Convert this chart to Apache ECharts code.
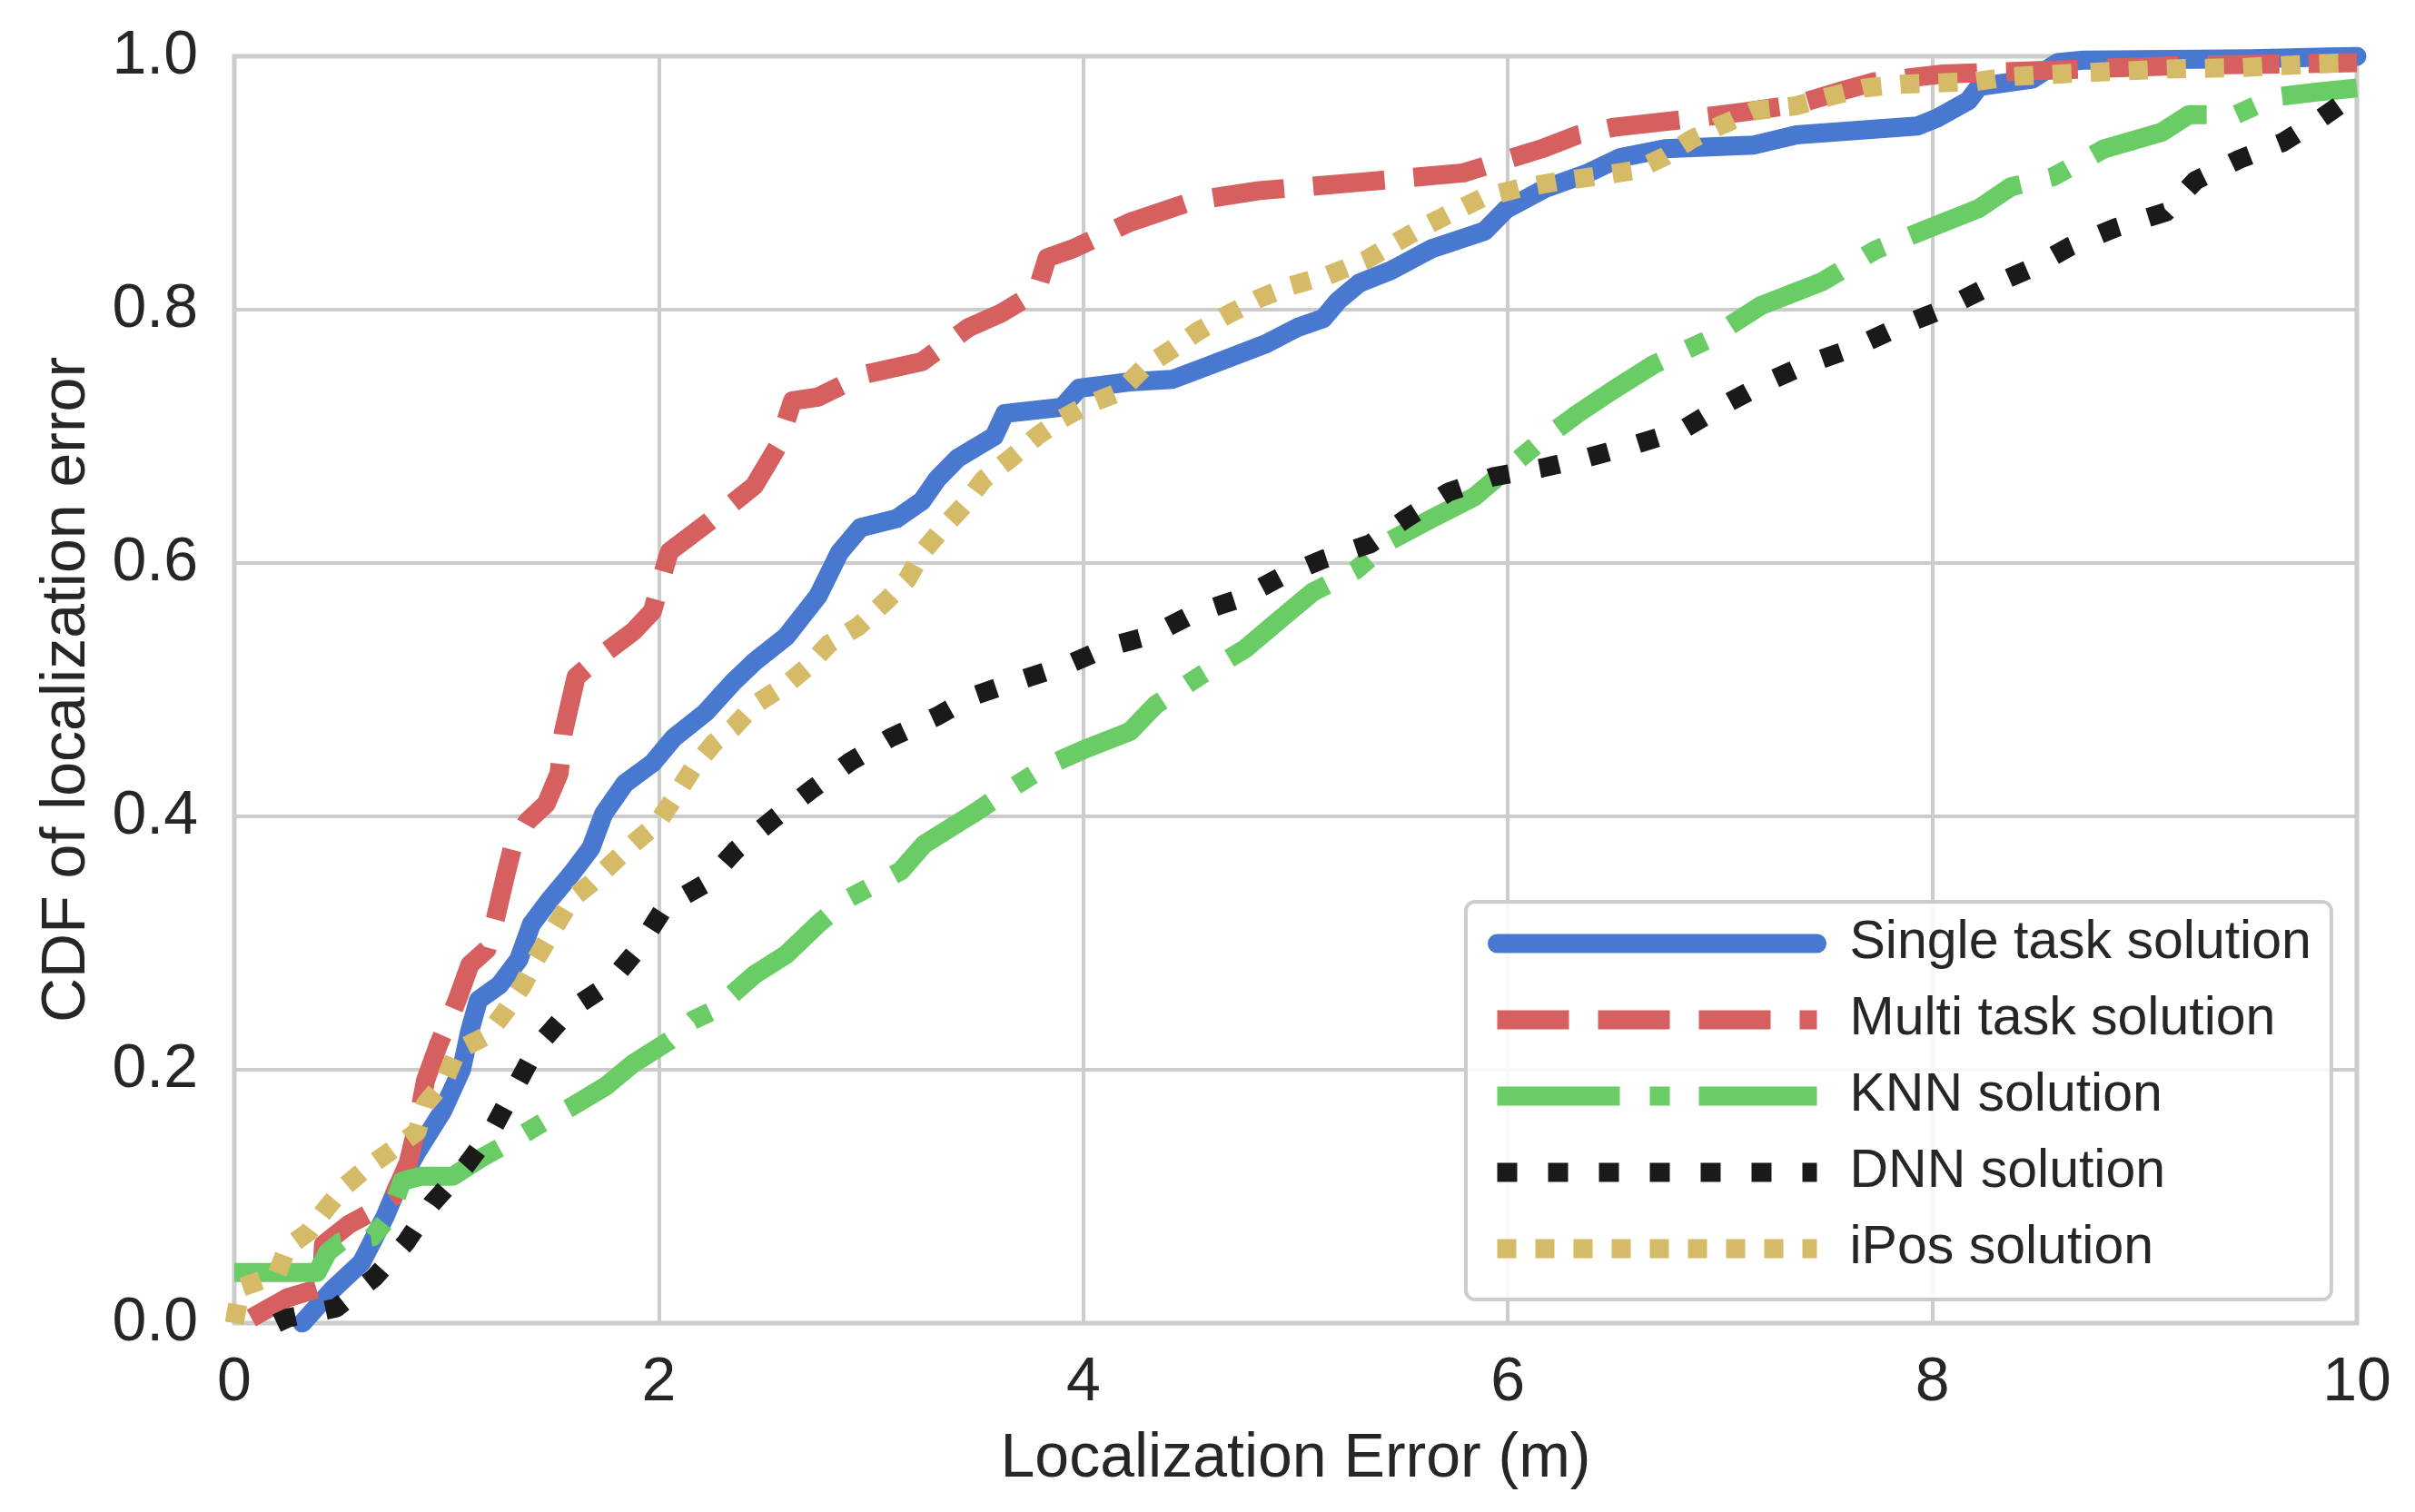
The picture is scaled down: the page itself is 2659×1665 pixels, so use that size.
<!DOCTYPE html>
<html>
<head>
<meta charset="utf-8">
<title>CDF of localization error</title>
<script src="https://cdn.jsdelivr.net/npm/echarts@6/dist/echarts.min.js"></script>
<style>
    html, body { margin: 0; padding: 0; background: #ffffff; }
    #chart { width: 2659px; height: 1665px; }
</style>
</head>
<body>
<div id="chart"></div>
<script>
// values: [error (m), CDF]
var singleTask = [
    [0.32, 0], [0.46, 0.026], [0.6, 0.048], [0.71, 0.084], [0.77, 0.108], [0.86, 0.135],
    [0.98, 0.167], [1.07, 0.2], [1.11, 0.231], [1.15, 0.255], [1.25, 0.267], [1.34, 0.287],
    [1.4, 0.315], [1.49, 0.335], [1.59, 0.355], [1.68, 0.375], [1.74, 0.402], [1.84, 0.426],
    [1.97, 0.442], [2.07, 0.462], [2.22, 0.482], [2.35, 0.506], [2.45, 0.522], [2.6, 0.542],
    [2.75, 0.574], [2.85, 0.608], [2.95, 0.628], [3.12, 0.635], [3.24, 0.649], [3.31, 0.666],
    [3.41, 0.683], [3.58, 0.7], [3.63, 0.718], [3.9, 0.723], [3.98, 0.738], [4.22, 0.743],
    [4.42, 0.745], [4.61, 0.757], [4.86, 0.773], [5.01, 0.786], [5.13, 0.793], [5.2, 0.807],
    [5.3, 0.821], [5.45, 0.831], [5.64, 0.848], [5.89, 0.862], [5.99, 0.879], [6.18, 0.896],
    [6.38, 0.908], [6.53, 0.92], [6.74, 0.927], [7.16, 0.93], [7.36, 0.938], [7.93, 0.945],
    [8.02, 0.951], [8.17, 0.965], [8.22, 0.976], [8.47, 0.982], [8.59, 0.995], [8.71, 0.997],
    [9.5, 0.998], [10, 1.0]
];
var multiTask = [
    [0.08, 0.004], [0.25, 0.02], [0.41, 0.028], [0.42, 0.062], [0.54, 0.078], [0.65, 0.088],
    [0.75, 0.1], [0.82, 0.127], [0.86, 0.155], [0.9, 0.191], [0.96, 0.219], [1.05, 0.255],
    [1.11, 0.283], [1.19, 0.295], [1.23, 0.319], [1.28, 0.355], [1.31, 0.375], [1.38, 0.396],
    [1.47, 0.41], [1.53, 0.434], [1.55, 0.466], [1.61, 0.51], [1.72, 0.526], [1.88, 0.546],
    [1.97, 0.562], [2.03, 0.598], [2.05, 0.609], [2.24, 0.633], [2.45, 0.661], [2.56, 0.692],
    [2.63, 0.728], [2.75, 0.731], [2.97, 0.749], [3.24, 0.759], [3.46, 0.786], [3.61, 0.797],
    [3.78, 0.814], [3.83, 0.841], [3.95, 0.848], [4.22, 0.869], [4.52, 0.886], [4.83, 0.894],
    [5.33, 0.901], [5.79, 0.908], [6.16, 0.927], [6.33, 0.938], [6.5, 0.944], [6.82, 0.95],
    [7.11, 0.956], [7.36, 0.962], [7.58, 0.973], [7.73, 0.98], [8.05, 0.986], [8.22, 0.987],
    [8.71, 0.99], [9.21, 0.993], [9.7, 0.994], [10, 0.995]
];
var knn = [
    [0, 0.04], [0.39, 0.04], [0.44, 0.056], [0.5, 0.064], [0.65, 0.068], [0.73, 0.084],
    [0.79, 0.112], [0.88, 0.116], [1.03, 0.116], [1.17, 0.131], [1.3, 0.143], [1.46, 0.159],
    [1.59, 0.171], [1.75, 0.187], [1.88, 0.205], [2.05, 0.223], [2.16, 0.239], [2.26, 0.247],
    [2.45, 0.275], [2.6, 0.291], [2.75, 0.315], [2.89, 0.335], [3.14, 0.357], [3.25, 0.378],
    [3.48, 0.402], [3.63, 0.419], [3.83, 0.44], [4.02, 0.454], [4.22, 0.467], [4.34, 0.488],
    [4.56, 0.512], [4.76, 0.532], [4.93, 0.556], [5.08, 0.577], [5.28, 0.594], [5.45, 0.618],
    [5.64, 0.635], [5.84, 0.652], [6.01, 0.676], [6.16, 0.697], [6.33, 0.718], [6.5, 0.737],
    [6.69, 0.757], [6.94, 0.776], [7.19, 0.803], [7.48, 0.822], [7.73, 0.847], [7.98, 0.864],
    [8.22, 0.88], [8.37, 0.897], [8.57, 0.905], [8.81, 0.927], [9.08, 0.94], [9.21, 0.954],
    [9.43, 0.954], [9.62, 0.968], [9.82, 0.972], [10, 0.975]
];
var dnn = [
    [0.2, 0], [0.25, 0.004], [0.48, 0.012], [0.66, 0.036], [0.81, 0.064], [0.93, 0.094],
    [1.09, 0.124], [1.21, 0.151], [1.32, 0.185], [1.43, 0.219], [1.58, 0.247], [1.76, 0.267],
    [1.9, 0.295], [2.03, 0.329], [2.22, 0.347], [2.36, 0.373], [2.54, 0.398], [2.71, 0.42],
    [2.9, 0.443], [3.09, 0.462], [3.31, 0.479], [3.48, 0.495], [3.69, 0.507], [3.93, 0.52],
    [4.12, 0.534], [4.32, 0.543], [4.52, 0.56], [4.74, 0.572], [4.93, 0.589], [5.13, 0.603],
    [5.35, 0.615], [5.52, 0.635], [5.72, 0.656], [5.93, 0.668], [6.16, 0.675], [6.37, 0.683],
    [6.61, 0.694], [6.82, 0.705], [7.01, 0.724], [7.21, 0.742], [7.41, 0.757], [7.63, 0.77],
    [7.85, 0.787], [8.06, 0.801], [8.25, 0.817], [8.47, 0.833], [8.65, 0.85], [8.87, 0.865],
    [9.1, 0.877], [9.24, 0.902], [9.45, 0.919], [9.65, 0.932], [9.83, 0.951], [10, 0.971]
];
var ipos = [
    [0, 0], [0.03, 0.028], [0.2, 0.038], [0.25, 0.06], [0.35, 0.072], [0.44, 0.092],
    [0.52, 0.108], [0.62, 0.122], [0.73, 0.135], [0.86, 0.151], [0.9, 0.173], [0.99, 0.191],
    [1.05, 0.215], [1.19, 0.227], [1.28, 0.247], [1.36, 0.267], [1.42, 0.287], [1.49, 0.307],
    [1.59, 0.335], [1.68, 0.347], [1.78, 0.363], [1.89, 0.38], [1.99, 0.394], [2.07, 0.414],
    [2.16, 0.438], [2.26, 0.458], [2.35, 0.47], [2.45, 0.488], [2.6, 0.504], [2.7, 0.518],
    [2.8, 0.536], [2.94, 0.55], [3.07, 0.57], [3.17, 0.587], [3.24, 0.608], [3.34, 0.628],
    [3.44, 0.646], [3.53, 0.666], [3.66, 0.683], [3.78, 0.7], [3.9, 0.714], [4.02, 0.725],
    [4.17, 0.735], [4.29, 0.755], [4.42, 0.769], [4.54, 0.783], [4.69, 0.797], [4.83, 0.809],
    [4.98, 0.819], [5.15, 0.827], [5.33, 0.839], [5.45, 0.851], [5.6, 0.865], [5.74, 0.877],
    [5.89, 0.889], [6.06, 0.896], [6.23, 0.901], [6.4, 0.905], [6.6, 0.91], [6.74, 0.921],
    [6.87, 0.935], [7.01, 0.946], [7.16, 0.957], [7.36, 0.961], [7.51, 0.968], [7.68, 0.975],
    [7.85, 0.978], [8.02, 0.979], [8.2, 0.98], [8.37, 0.984], [8.71, 0.987], [9.11, 0.99],
    [9.45, 0.991], [9.8, 0.994], [10, 0.995]
];
var seriesNames = ['Single task solution', 'Multi task solution', 'KNN solution', 'DNN solution', 'iPos solution'];
var xTicks = [0, 2, 4, 6, 8, 10];

var font = "'Liberation Sans', Arial, sans-serif";
var textColor = '#262626';
var lineW = 21;

initChart();

function initChart() {
    var chart = echarts.init(document.getElementById('chart'));
    var option = {
        animation: false,
        backgroundColor: '#ffffff',
        grid: {
            left: 258,
            right: 64,
            top: 62,
            bottom: 208,
            show: true,
            backgroundColor: '#ffffff',
            borderColor: '#cccccc',
            borderWidth: 5
        },
        xAxis: {
            type: 'value',
            min: xTicks[0],
            max: xTicks[xTicks.length - 1],
            interval: 2,
            name: 'Localization Error (m)',
            nameLocation: 'middle',
            nameGap: 116,
            nameTextStyle: { fontSize: 68, color: textColor, fontFamily: font },
            axisLine: { show: false },
            axisTick: { show: false },
            axisLabel: { fontSize: 68, color: textColor, fontFamily: font, margin: 32 },
            splitLine: { lineStyle: { color: '#cccccc', width: 4 } }
        },
        yAxis: {
            type: 'value',
            min: 0,
            max: 1,
            interval: 0.2,
            name: 'CDF of localization error',
            nameLocation: 'middle',
            nameGap: 150,
            nameTextStyle: { fontSize: 68, color: textColor, fontFamily: font },
            axisLine: { show: false },
            axisTick: { show: false },
            axisLabel: {
                fontSize: 68, color: textColor, fontFamily: font, margin: 40,
                formatter: function (v) { return v.toFixed(1); }
            },
            splitLine: { lineStyle: { color: '#cccccc', width: 4 } }
        },
        legend: {
            orient: 'vertical',
            left: 1614,
            top: 993,
            data: seriesNames,
            itemWidth: 352,
            itemHeight: 22,
            itemGap: 24,
            padding: [16, 22, 26, 24],
            backgroundColor: 'rgba(255,255,255,0.85)',
            borderColor: '#cccccc',
            borderWidth: 4,
            borderRadius: 10,
            itemStyle: { opacity: 0 },
            lineStyle: { width: lineW },
            textStyle: {
                fontSize: 59, color: textColor, fontFamily: font,
                lineHeight: 60, padding: [0, 0, 0, 31]
            }
        },
        series: [
            makeLine(seriesNames[0], singleTask, '#4878CF', 'solid', 'round'),
            makeLine(seriesNames[1], multiTask, '#D65F5F', [79, 32], 'butt'),
            makeLine(seriesNames[2], knn, '#6ACC65', [135, 33, 22, 32], 'butt'),
            makeLine(seriesNames[3], dnn, '#1a1a1a', [22, 34], 'butt'),
            makeLine(seriesNames[4], ipos, '#D5BB67', [21, 21], 'butt')
        ]
    };
    chart.setOption(option);
}

function makeLine(name, points, color, dash, cap) {
    return {
        name: name,
        type: 'line',
        data: points,
        symbol: 'none',
        smooth: false,
        color: color,
        lineStyle: { color: color, width: lineW, type: dash, cap: cap, join: 'round' }
    };
}
</script>
</body>
</html>
